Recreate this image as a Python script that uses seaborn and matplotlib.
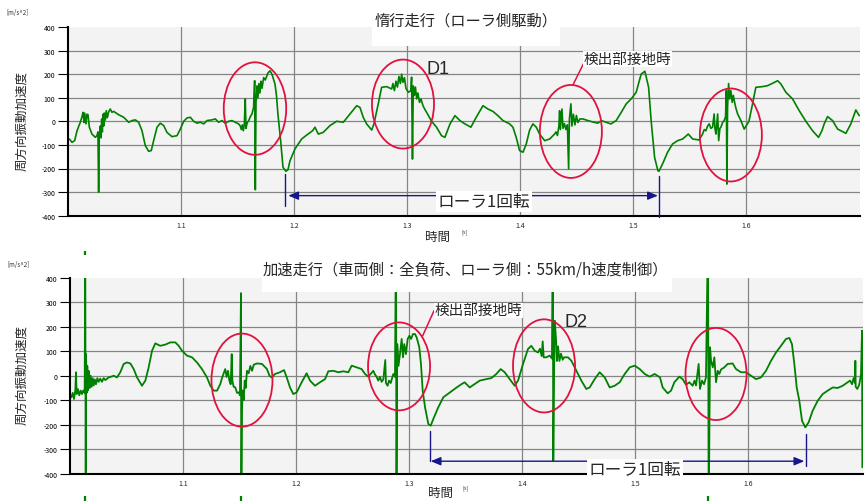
import matplotlib
matplotlib.use("Agg")
import matplotlib.pyplot as plt
from matplotlib.patches import Ellipse, Rectangle
import seaborn as sns

# ---------------------------------------------------------------- data
# Coasting run (roller-side drive): time [s] and circumferential acceleration [m/s^2]
t_coast = [
    1.0012, 1.0035, 1.0059, 1.0080, 1.0109, 1.0124, 1.0133, 1.0142, 1.0148, 1.0159,
    1.0168, 1.0177, 1.0189, 1.0212, 1.0242, 1.0257, 1.0265, 1.0271, 1.0277, 1.0286,
    1.0292, 1.0298, 1.0304, 1.0310, 1.0316, 1.0321, 1.0330, 1.0339, 1.0348, 1.0360,
    1.0374, 1.0389, 1.0404, 1.0448, 1.0493, 1.0537, 1.0566, 1.0596, 1.0625, 1.0655,
    1.0684, 1.0714, 1.0737, 1.0758, 1.0788, 1.0817, 1.0847, 1.0876, 1.0920, 1.0965,
    1.0994, 1.1024, 1.1053, 1.1083, 1.1112, 1.1142, 1.1171, 1.1201, 1.1230, 1.1274,
    1.1304, 1.1333, 1.1363, 1.1392, 1.1422, 1.1451, 1.1481, 1.1510, 1.1525, 1.1534,
    1.1543, 1.1552, 1.1561, 1.1569, 1.1575, 1.1587, 1.1599, 1.1614, 1.1628, 1.1643,
    1.1652, 1.1658, 1.1664, 1.1673, 1.1681, 1.1690, 1.1699, 1.1708, 1.1717, 1.1732,
    1.1746, 1.1770, 1.1788, 1.1805, 1.1832, 1.1845, 1.1858, 1.1882, 1.1903, 1.1929,
    1.1947, 1.1965, 1.2009, 1.2068, 1.2124, 1.2165, 1.2186, 1.2215, 1.2259, 1.2319,
    1.2378, 1.2437, 1.2496, 1.2555, 1.2584, 1.2613, 1.2643, 1.2688, 1.2708, 1.2746,
    1.2776, 1.2820, 1.2865, 1.2876, 1.2889, 1.2903, 1.2916, 1.2929, 1.2942, 1.2953,
    1.2965, 1.2978, 1.2991, 1.3012, 1.3035, 1.3041, 1.3049, 1.3056, 1.3066, 1.3075,
    1.3086, 1.3097, 1.3111, 1.3124, 1.3142, 1.3159, 1.3174, 1.3218, 1.3262, 1.3306,
    1.3336, 1.3381, 1.3425, 1.3469, 1.3513, 1.3566, 1.3613, 1.3673, 1.3717, 1.3761,
    1.3805, 1.3850, 1.3909, 1.3938, 1.3967, 1.3997, 1.4027, 1.4056, 1.4086, 1.4115,
    1.4145, 1.4174, 1.4219, 1.4263, 1.4307, 1.4319, 1.4332, 1.4345, 1.4351, 1.4358,
    1.4372, 1.4381, 1.4394, 1.4407, 1.4420, 1.4431, 1.4438, 1.4451, 1.4460, 1.4473,
    1.4487, 1.4500, 1.4513, 1.4531, 1.4558, 1.4602, 1.4646, 1.4690, 1.4720, 1.4764,
    1.4805, 1.4852, 1.4897, 1.4941, 1.4985, 1.5029, 1.5073, 1.5106, 1.5139, 1.5162,
    1.5192, 1.5221, 1.5230, 1.5263, 1.5307, 1.5351, 1.5396, 1.5440, 1.5490, 1.5529,
    1.5585, 1.5617, 1.5631, 1.5646, 1.5661, 1.5675, 1.5690, 1.5705, 1.5719, 1.5726,
    1.5735, 1.5750, 1.5759, 1.5770, 1.5779, 1.5794, 1.5808, 1.5820, 1.5827, 1.5832,
    1.5838, 1.5847, 1.5856, 1.5867, 1.5879, 1.5889, 1.5897, 1.5912, 1.5927, 1.5956,
    1.5985, 1.6027, 1.6059, 1.6088, 1.6147, 1.6192, 1.6236, 1.6281, 1.6310, 1.6354,
    1.6413, 1.6472, 1.6531, 1.6590, 1.6643, 1.6673, 1.6693, 1.6723, 1.6767, 1.6812,
    1.6885, 1.6929, 1.6973, 1.7003,
]
acc_coast = [
    -75, -89, -82, -40, -4, 20, 38, -5, 35, -11,
    30, 28, -25, -54, -68, -60, -45, -300, -60, -20,
    -70, 10, -45, 30, -20, 35, 5, 45, 15, 40,
    52, 38, 42, 28, 17, -4, 3, 6, -4, -40,
    -103, -127, -124, -82, -25, -8, -18, -47, -65, -61,
    -33, 0, 14, 17, 0, -8, -4, -11, 3, 6,
    10, -4, 3, -8, 0, 3, -4, -11, -20, -35,
    -15, -40, -10, 95, -30, -5, 2, 20, 31, 60,
    172, -290, 80, 150, 100, 160, 120, 170, 140, 185,
    175, 205, 214, 200, 158, 110, 31, -82, -195, -212,
    -205, -167, -117, -75, -54, -40, -25, -54, -47, -18,
    0, -4, 31, 66, 59, 17, -11, -37, -11, 74,
    144, 147, 137, 160, 130, 170, 145, 190, 160, 200,
    165, 185, 140, 123, 130, 187, -160, 150, 110, 145,
    95, 120, 80, 95, 66, 50, 38, 0, -25, -61,
    -68, -11, 24, 3, -11, -25, 17, 66, 52, 42,
    24, 3, -11, -25, -68, -124, -131, -96, -37, -11,
    -25, -54, -82, -75, -54, -45, -60, -20, 45, -35,
    52, -30, -10, -35, -15, -202, 10, 74, -20, 30,
    -15, 25, -5, 10, 10, 3, -3, -8, 3, -4,
    -11, 3, 38, 74, 95, 123, 200, 212, 144, 0,
    -153, -209, -212, -180, -131, -96, -82, -75, -54, -75,
    -79, -54, -35, -40, -20, -11, -30, -25, 31, -30,
    -54, 31, -82, -30, -25, -5, 3, 20, 130, -266,
    60, 160, 95, 130, 80, 110, 88, 55, 31, 3,
    -33, 0, 74, 144, 147, 151, 161, 172, 158, 123,
    95, 45, 0, -40, -68, -40, -11, 20, 3, -33,
    -51, -11, 48, 24,
]

# Accelerating run (vehicle side full load, roller side 55 km/h speed control)
t_accel = [
    1.0012, 1.0024, 1.0035, 1.0047, 1.0053, 1.0059, 1.0071, 1.0082, 1.0095, 1.0106,
    1.0118, 1.0130, 1.0135, 1.0139, 1.0142, 1.0148, 1.0153, 1.0159, 1.0165, 1.0174,
    1.0183, 1.0192, 1.0201, 1.0210, 1.0219, 1.0230, 1.0242, 1.0254, 1.0268, 1.0283,
    1.0298, 1.0313, 1.0342, 1.0372, 1.0386, 1.0416, 1.0445, 1.0475, 1.0504, 1.0534,
    1.0564, 1.0593, 1.0637, 1.0667, 1.0696, 1.0726, 1.0755, 1.0799, 1.0844, 1.0888,
    1.0932, 1.0962, 1.0991, 1.1035, 1.1080, 1.1124, 1.1168, 1.1212, 1.1242, 1.1272,
    1.1301, 1.1330, 1.1345, 1.1360, 1.1374, 1.1386, 1.1398, 1.1410, 1.1422, 1.1431,
    1.1437, 1.1448, 1.1463, 1.1478, 1.1493, 1.1504, 1.1513, 1.1516, 1.1522, 1.1528,
    1.1537, 1.1546, 1.1555, 1.1566, 1.1581, 1.1596, 1.1611, 1.1626, 1.1655, 1.1699,
    1.1743, 1.1765, 1.1785, 1.1814, 1.1858, 1.1894, 1.1918, 1.1947, 1.1976, 1.2006,
    1.2050, 1.2094, 1.2124, 1.2168, 1.2212, 1.2257, 1.2286, 1.2330, 1.2374, 1.2419,
    1.2463, 1.2493, 1.2537, 1.2581, 1.2611, 1.2640, 1.2684, 1.2699, 1.2714, 1.2728,
    1.2743, 1.2758, 1.2773, 1.2790, 1.2796, 1.2811, 1.2823, 1.2838, 1.2850, 1.2861,
    1.2876, 1.2885, 1.2889, 1.2896, 1.2907, 1.2920, 1.2935, 1.2947, 1.2958, 1.2973,
    1.2988, 1.3003, 1.3018, 1.3035, 1.3053, 1.3068, 1.3091, 1.3106, 1.3121, 1.3142,
    1.3171, 1.3192, 1.3215, 1.3259, 1.3304, 1.3363, 1.3422, 1.3466, 1.3493, 1.3537,
    1.3581, 1.3626, 1.3684, 1.3728, 1.3773, 1.3811, 1.3847, 1.3891, 1.3935, 1.3965,
    1.4009, 1.4053, 1.4082, 1.4112, 1.4142, 1.4159, 1.4174, 1.4183, 1.4192, 1.4215,
    1.4245, 1.4265, 1.4272, 1.4277, 1.4286, 1.4290, 1.4301, 1.4308, 1.4319, 1.4331,
    1.4345, 1.4360, 1.4372, 1.4407, 1.4437, 1.4466, 1.4496, 1.4525, 1.4569, 1.4599,
    1.4643, 1.4687, 1.4732, 1.4776, 1.4820, 1.4864, 1.4909, 1.4953, 1.4997, 1.5042,
    1.5086, 1.5130, 1.5174, 1.5221, 1.5245, 1.5289, 1.5319, 1.5348, 1.5392, 1.5422,
    1.5451, 1.5481, 1.5510, 1.5527, 1.5540, 1.5549, 1.5563, 1.5575, 1.5593, 1.5611,
    1.5628, 1.5646, 1.5652, 1.5664, 1.5673, 1.5688, 1.5702, 1.5717, 1.5732, 1.5746,
    1.5761, 1.5790, 1.5820, 1.5864, 1.5894, 1.5938, 1.5982, 1.6027, 1.6071, 1.6115,
    1.6159, 1.6204, 1.6248, 1.6292, 1.6336, 1.6366, 1.6389, 1.6410, 1.6431, 1.6454,
    1.6478, 1.6507, 1.6537, 1.6572, 1.6617, 1.6661, 1.6705, 1.6750, 1.6794, 1.6838,
    1.6882, 1.6903, 1.6921, 1.6934, 1.6947, 1.6950, 1.6953, 1.6967, 1.6982, 1.6991,
    1.7000, 1.7009, 1.7012,
]
acc_accel = [
    -88, -70, -95, -60, 14, -75, -55, -80, -61, -75,
    -60, -70, 600, -600, 88, -70, 40, -60, 20, -50,
    0, -45, -10, -40, -15, -35, -10, -25, -12, -25,
    -10, -18, -7, -3, 0, -7, 14, 48, 54, 50,
    27, -7, -41, -20, 34, 102, 132, 122, 127, 136,
    136, 122, 102, 82, 75, 54, 27, -7, -41, -61,
    -61, -34, -10, 10, 27, -5, 20, -20, -35, 88,
    -20, -45, -48, -70, -68, -80, 337, -600, -140, -60,
    -100, -20, -50, 20, 10, 40, 20, 45, 50, 48,
    27, 0, -7, 7, 14, 23, -7, -48, -75, -68,
    -27, 10, -20, -41, -27, -14, 18, 20, 14, 18,
    14, 41, 34, 27, 7, -4, 20, 5, -5, -20,
    -5, -25, -15, 64, -30, -41, -20, -30, -10, 7,
    -5, 600, -600, 129, 40, 88, 150, 75, 129, 88,
    150, 163, 150, 170, 170, 156, 116, 48, -61, -129,
    -197, -204, -177, -129, -88, -68, -48, -34, -27, -48,
    -34, -20, -14, -10, 7, 27, 14, -14, -41, -20,
    48, 109, 122, 102, 95, 110, 80, 140, 75, 75,
    82, 70, 600, -347, 120, 224, 150, 60, 120, 60,
    90, 65, 75, 75, 61, 34, 7, -20, -54, -48,
    -14, 14, -7, -48, -41, -27, 7, 34, 41, 27,
    7, -4, 7, -7, -48, -72, -61, -27, -4, -14,
    -37, -27, -41, -20, -40, -5, 48, -54, -20, -35,
    -7, 600, -600, 116, 61, 34, 75, -27, 20, 7,
    25, 34, 48, 50, 27, 14, 14, 0, -14, -7,
    20, 61, 95, 122, 150, 154, 129, 48, -48, -102,
    -184, -211, -190, -143, -102, -75, -61, -48, -50, -41,
    -27, -20, -35, -10, -30, 61, -45, -54, -40, -20,
    7, 184, -374,
]

# impact spikes of the accelerating run that run past the plot frame
spike_t_accel_top = [1.0135]
spike_t_accel_bottom = [1.0135, 1.1516, 1.5646]

y_ticks = [-400, -300, -200, -100, 0, 100, 200, 300, 400]
x_ticks = [1.1, 1.2, 1.3, 1.4, 1.5, 1.6]
x_tick_labels = ["1.1", "1.2", "1.3", "1.4", "1.5", "1.6"]

title_coast = "惰行走行（ローラ側駆動）"
title_accel = "加速走行（車両側：全負荷、ローラ側：55km/h速度制御）"
y_label = "周方向振動加速度"
x_label = "時間"
unit_y = "[m/s^2]"
unit_x = "[s]"
note_contact = "検出部接地時"
note_rev = "ローラ1回転"

# ---------------------------------------------------------------- style
sns.set_theme(style="white")
plt.rcParams["font.family"] = ["Noto Sans CJK JP", "DejaVu Sans"]

GREEN = "#008000"
RED = "#e0123f"
NAVY = "#16168a"
W, H = 866, 502

fig = plt.figure(figsize=(W / 100, H / 100), dpi=100)
fig.patch.set_facecolor("white")


def px_rect(x0, y_top, x1, y_bot):
    return [x0 / W, 1 - y_bot / H, (x1 - x0) / W, (y_bot - y_top) / H]


ax_top = fig.add_axes(px_rect(68, 27.9, 860, 216.7))
ax_bot = fig.add_axes(px_rect(70, 278.7, 862.7, 474.7))


def style_axes(ax, xmax):
    ax.set_facecolor("#f3f3f3")
    ax.set_xlim(1.0, xmax)
    ax.set_ylim(-400, 400)
    ax.set_xticks(x_ticks)
    ax.set_xticklabels(x_tick_labels)
    ax.set_yticks(y_ticks)
    ax.set_yticklabels([str(v) for v in y_ticks])
    ax.grid(True, color="#858585", linewidth=0.9)
    ax.set_axisbelow(True)
    for s in ("top", "right"):
        ax.spines[s].set_visible(False)
    for s in ("left", "bottom"):
        ax.spines[s].set_color("black")
        ax.spines[s].set_linewidth(1.5)
    ax.tick_params(axis="y", direction="out", length=7, width=0.8,
                   colors="black", labelsize=5, pad=2, left=True)
    ax.tick_params(axis="x", length=0, labelsize=5, pad=4, labelcolor="#222222")
    ax.set_xlabel("")
    ax.set_ylabel("")
    ax.yaxis.get_major_ticks()[-1].gridline.set_visible(False)


sns.lineplot(x=t_coast, y=acc_coast, ax=ax_top, color=GREEN, linewidth=1.2,
             sort=False, estimator=None)
sns.lineplot(x=t_accel, y=acc_accel, ax=ax_bot, color=GREEN, linewidth=1.3,
             sort=False, estimator=None)
style_axes(ax_top, 1.701)
style_axes(ax_bot, 1.7015)

ax_bot.vlines(spike_t_accel_top, 492, 508, color=GREEN, linewidth=1.6, clip_on=False)
ax_bot.vlines(spike_t_accel_bottom, -511, -491, color=GREEN, linewidth=1.6, clip_on=False)

# ---------------------------------------------------------------- annotations
ellipses_top = [(1.1655, 54, 0.0553, 392), (1.2965, 73, 0.0549, 377),
                (1.4451, -43, 0.0549, 394), (1.5867, -58, 0.0549, 394)]
ellipses_bot = [(1.1522, -18, 0.0540, 380), (1.2912, 38, 0.0549, 359),
                (1.4195, 40, 0.0549, 380), (1.5717, 7, 0.0540, 376)]
for ax, ells in ((ax_top, ellipses_top), (ax_bot, ellipses_bot)):
    for cx, cy, w, h in ells:
        ax.add_patch(Ellipse((cx, cy), w, h, fill=False, edgecolor=RED,
                             linewidth=1.3, zorder=4))

# leader lines and notes for the contact moment
ax_top.plot([1.4469, 1.4575], [154, 256], color=RED, linewidth=1.1, zorder=4)
ax_top.text(1.4566, 264, note_contact, fontsize=10.5, ha="left", va="center",
            zorder=6, bbox=dict(boxstyle="square,pad=0.05", fc="white", ec="none"))
ax_bot.plot([1.3121, 1.3221], [163, 265], color=RED, linewidth=1.1, zorder=4)
ax_bot.text(1.3230, 267, note_contact, fontsize=10.5, ha="left", va="center",
            zorder=6, bbox=dict(boxstyle="square,pad=0.05", fc="white", ec="none"))

ax_top.text(1.3174, 224, "D1", fontsize=13, family=["Liberation Sans", "DejaVu Sans"],
            ha="left", va="center", zorder=6)
ax_bot.text(1.4372, 221, "D2", fontsize=13, family=["Liberation Sans", "DejaVu Sans"],
            ha="left", va="center", zorder=6)


def revolution(ax, t0, t1, y, tick0, tick1, tx, ty):
    ax.annotate("", xy=(t0, y), xytext=(t1, y), annotation_clip=False,
                arrowprops=dict(arrowstyle="<|-|>,head_length=0.6,head_width=0.25",
                                color=NAVY, lw=1.0, mutation_scale=10,
                                shrinkA=0, shrinkB=0), zorder=5)
    ax.plot([tick0[0], tick0[0]], tick0[1:], color=NAVY, lw=1.0, clip_on=False, zorder=5)
    ax.plot([tick1[0], tick1[0]], tick1[1:], color=NAVY, lw=1.0, clip_on=False, zorder=5)
    ax.text(tx, ty, note_rev, fontsize=12, ha="center", va="center", zorder=7,
            clip_on=False,
            bbox=dict(boxstyle="square,pad=0.12", fc="white", ec="none"))


revolution(ax_top, 1.1950, 1.5221, -315, (1.1923, -223, -359), (1.5227, -231, -404),
           1.3681, -338)
revolution(ax_bot, 1.3192, 1.6498, -349, (1.3186, -224, -349), (1.6513, -238, -367),
           1.4998, -383)

# title panels (white label boxes overlapping the plot frame)
fig.add_artist(Rectangle((372 / W, 1 - 47 / H), 188 / W, 42 / H,
                         transform=fig.transFigure, facecolor="white",
                         edgecolor="none", zorder=5))
fig.add_artist(Rectangle((262 / W, 1 - 293 / H), 410 / W, 36 / H,
                         transform=fig.transFigure, facecolor="white",
                         edgecolor="none", zorder=5))
fig.text(466 / W, 1 - 21 / H, title_coast, fontsize=11, ha="center", va="center", zorder=6)
fig.text(465 / W, 1 - 270 / H, title_accel, fontsize=11, ha="center", va="center", zorder=6)

# axis labels and units
for yc in (121, 375):
    fig.text(22 / W, 1 - yc / H, y_label, fontsize=9, rotation=90,
             ha="center", va="center")
fig.text(6 / W, 1 - 13 / H, unit_y, fontsize=4.5, ha="left", va="center", color="#333333")
fig.text(7 / W, 1 - 265 / H, unit_y, fontsize=4.5, ha="left", va="center", color="#333333")
fig.text(437 / W, 1 - 237 / H, x_label, fontsize=9, ha="center", va="center")
fig.text(440 / W, 1 - 493 / H, x_label, fontsize=9, ha="center", va="center")
fig.text(465 / W, 1 - 232 / H, unit_x, fontsize=4, ha="center", va="center", color="#333333")
fig.text(466 / W, 1 - 488 / H, unit_x, fontsize=4, ha="center", va="center", color="#333333")

fig.savefig("out.png", dpi=100)
